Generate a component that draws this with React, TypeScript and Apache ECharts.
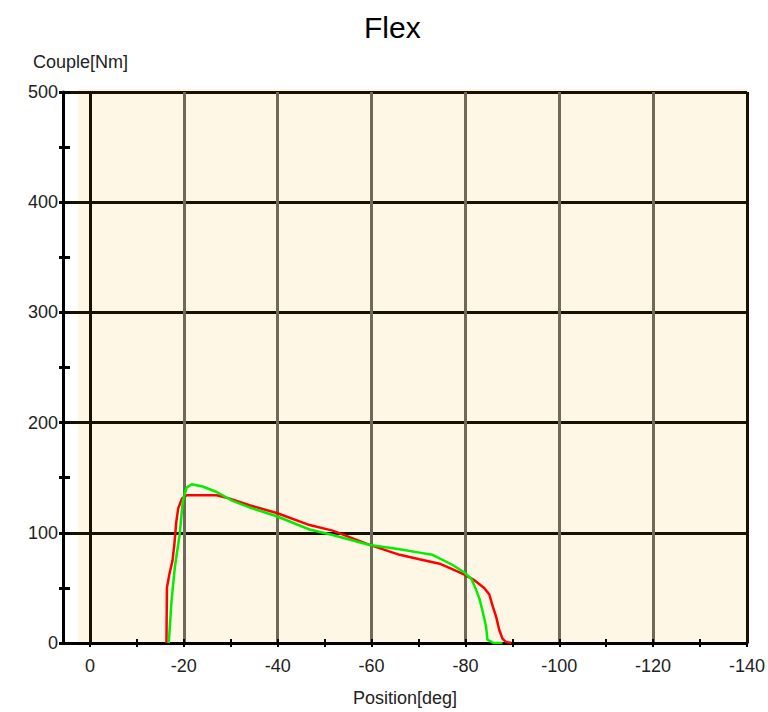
import React, { useEffect, useRef } from "react";
import * as echarts from "echarts";

const titleText = "Flex";
const yAxisName = "Couple[Nm]";
const xAxisName = "Position[deg]";

const redPosition = [-16.3, -16.4, -16.9, -17.6, -18.0, -18.4, -18.8, -19.6, -20.6, -23.4, -27.0, -29.8, -34.0, -39.8, -46.8, -51.7, -59.6, -66.0, -70.2, -74.5, -77.2, -79.8, -81.9, -84.0, -85.1, -85.7, -86.6, -87.2, -87.9, -88.6, -89.8];
const redTorque = [0, 50, 62, 75, 90, 110, 122, 131, 134, 134, 134, 131, 125, 118, 107, 102, 89, 80, 76, 72, 67, 62, 57, 50, 44, 35, 23, 12, 4, 1, 0];

const greenPosition = [-16.8, -17.4, -18.1, -19.1, -19.8, -20.6, -21.7, -24.0, -27.0, -30.4, -34.0, -39.8, -46.8, -51.7, -59.6, -66.0, -70.2, -73.0, -77.2, -79.8, -81.3, -82.3, -83.0, -83.6, -84.4, -84.7, -86.0, -87.9];
const greenTorque = [0, 39, 69, 98, 129, 141, 144, 142, 137, 129, 123, 115, 103, 98, 89, 85, 82, 80, 71, 64, 58, 48, 40, 30, 15, 3, 0, 0];

const xTickValues = [0, -10, -20, -30, -40, -50, -60, -70, -80, -90, -100, -110, -120, -130, -140];
const xLabelValues = [0, -20, -40, -60, -80, -100, -120, -140];
const edgeGridLines = [0, -140];

const X_MIN = -140;
const X_MAX = 5.74;

export default function App() {
  const ref = useRef<HTMLDivElement>(null);

  useEffect(() => {
    if (!ref.current) return;
    const chart = echarts.init(ref.current, null, { renderer: "svg" });
    const font = "Liberation Sans";
    const labelStyle = { fontFamily: font, fontSize: 18, color: "#222" };

    const red = redPosition.map((p, i) => [p, redTorque[i]]);
    const green = greenPosition.map((p, i) => [p, greenTorque[i]]);

    const tickAxis = (inside: boolean) => ({
      type: "value",
      inverse: true,
      min: X_MIN,
      max: X_MAX,
      interval: 20,
      position: "bottom",
      axisLine: { show: false, onZero: false },
      axisTick: { show: true, inside, customValues: xTickValues, length: 4, lineStyle: { color: "#000", width: 2 } },
      axisLabel: { show: false },
      splitLine: { show: false },
    });

    chart.setOption({
      animation: false,
      backgroundColor: "#ffffff",
      title: {
        text: titleText,
        left: 359,
        top: 7,
        textStyle: { fontFamily: font, fontSize: 30, fontWeight: "normal", color: "#000" },
      },
      grid: { left: 63, right: 20, top: 92, bottom: 66 },
      graphic: [
        {
          type: "rect",
          z: -10,
          shape: { x: 78, y: 89, width: 670, height: 557 },
          style: { fill: "#FFF7E6" },
          silent: true,
        },
        {
          type: "text",
          left: 33,
          top: 53,
          style: { text: yAxisName, font: `18px '${font}'`, fill: "#222" },
        },
      ],
      xAxis: [
        {
          type: "value",
          inverse: true,
          min: X_MIN,
          max: X_MAX,
          interval: 20,
          position: "bottom",
          axisLine: { show: true, onZero: false, lineStyle: { color: "#000", width: 3 } },
          axisTick: { show: false },
          axisLabel: {
            ...labelStyle,
            margin: 14,
            customValues: xLabelValues,
            formatter: (v: number) => (Math.abs(v % 20) < 1e-6 ? String(v) : ""),
          },
          splitLine: { show: true, lineStyle: { color: "#706858", width: 3 } },
          name: xAxisName,
          nameLocation: "middle",
          nameGap: 46,
          nameTextStyle: labelStyle,
        },
        tickAxis(false),
        tickAxis(true),
      ],
      yAxis: [
        {
          type: "value",
          min: 0,
          max: 500,
          interval: 100,
          axisLine: { show: true, onZero: false, lineStyle: { color: "#000", width: 3 } },
          axisTick: { show: true, length: 4, lineStyle: { color: "#000", width: 3 } },
          minorTick: { show: true, splitNumber: 2, length: 4, lineStyle: { color: "#000", width: 3 } },
          axisLabel: { ...labelStyle, margin: 5 },
          splitLine: { show: true, lineStyle: { color: "#1a1000", width: 3 } },
        },
        {
          type: "value",
          min: 0,
          max: 500,
          interval: 100,
          position: "left",
          axisLine: { show: false, onZero: false },
          axisTick: { show: true, inside: true, length: 7, lineStyle: { color: "#000", width: 3 } },
          minorTick: { show: true, splitNumber: 2, length: 7, lineStyle: { color: "#000", width: 3 } },
          axisLabel: { show: false },
          splitLine: { show: false },
        },
      ],
      series: [
        {
          type: "line",
          name: "red",
          data: red,
          xAxisIndex: 0,
          yAxisIndex: 0,
          showSymbol: false,
          symbol: "none",
          lineStyle: { color: "#ff0000", width: 2.5 },
          z: 3,
          markLine: {
            silent: true,
            symbol: "none",
            label: { show: false },
            lineStyle: { color: "#1a1000", width: 3, type: "solid" },
            data: edgeGridLines.map((v) => ({ xAxis: v })),
          },
        },
        {
          type: "line",
          name: "green",
          data: green,
          xAxisIndex: 0,
          yAxisIndex: 0,
          showSymbol: false,
          symbol: "none",
          lineStyle: { color: "#00ee00", width: 2.5 },
          z: 4,
        },
      ],
    });

    return () => chart.dispose();
  }, []);

  return (
    <div
      ref={ref}
      style={{ position: "fixed", left: 0, top: 0, width: 768, height: 712 }}
    />
  );
}
